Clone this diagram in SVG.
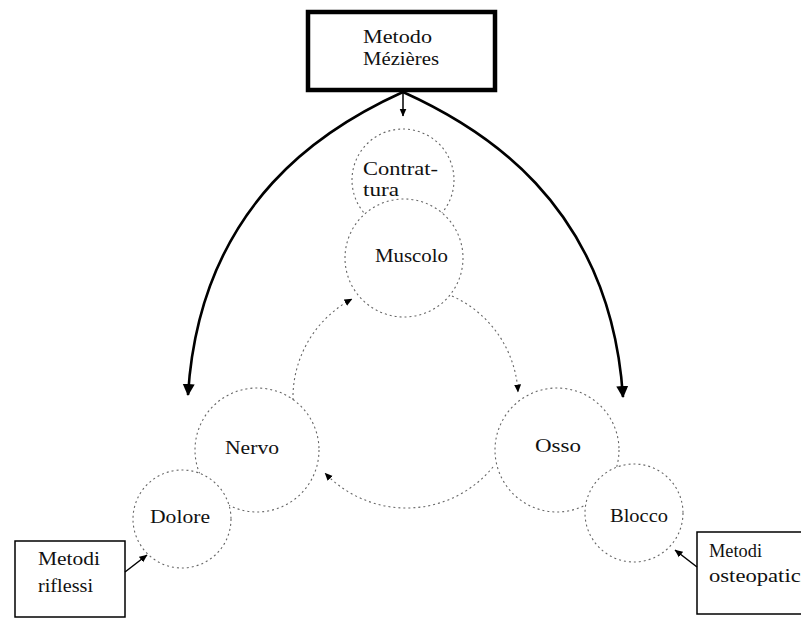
<svg xmlns="http://www.w3.org/2000/svg" width="801" height="619" viewBox="0 0 801 619">
<style>
  .node circle { fill: #fff; stroke: #666; stroke-width: 1.1; stroke-dasharray: 2 3; }
  text { font-family: "Liberation Serif", "Times New Roman", serif; font-size: 18px; fill: #111; }
  .thick { fill: none; stroke: #000; stroke-width: 2.6; }
  .dot { fill: none; stroke: #666; stroke-width: 1.1; stroke-dasharray: 2 3; }
  .thin { fill: none; stroke: #000; stroke-width: 1.5; }
</style>
<defs>
  <marker id="big" markerUnits="userSpaceOnUse" markerWidth="12" markerHeight="14" viewBox="0 0 12 14" refX="11" refY="7" orient="auto">
    <path d="M0,1 L12,7 L0,13 Z" fill="#000"/>
  </marker>
  <marker id="small" markerUnits="userSpaceOnUse" markerWidth="8" markerHeight="8" viewBox="0 0 8 8" refX="7.5" refY="4" orient="auto">
    <path d="M0,0.5 L8,4 L0,7.5 Z" fill="#000"/>
  </marker>
</defs>
<rect width="801" height="619" fill="#fff"/>

<g id="nodes">
  <g id="mezieres">
    <rect x="308" y="12" width="187" height="78" fill="#fff" stroke="#000" stroke-width="4.5"/>
    <text x="363" y="43" textLength="69" lengthAdjust="spacingAndGlyphs">Metodo</text>
    <text x="363" y="65" textLength="76" lengthAdjust="spacingAndGlyphs">Mézières</text>
  </g>
  <g id="contrattura" class="node">
    <circle cx="403" cy="180" r="51"/>
    <text x="363" y="175" textLength="75" lengthAdjust="spacingAndGlyphs">Contrat-</text>
    <text x="363" y="196" textLength="36" lengthAdjust="spacingAndGlyphs">tura</text>
  </g>
  <g id="muscolo" class="node">
    <circle cx="404" cy="258" r="59"/>
    <text x="375" y="262" textLength="73" lengthAdjust="spacingAndGlyphs">Muscolo</text>
  </g>
  <g id="nervo" class="node">
    <circle cx="257" cy="450" r="62"/>
    <text x="225" y="454" textLength="54" lengthAdjust="spacingAndGlyphs">Nervo</text>
  </g>
  <g id="dolore" class="node">
    <circle cx="182" cy="519" r="49"/>
    <text x="150" y="523" textLength="60" lengthAdjust="spacingAndGlyphs">Dolore</text>
  </g>
  <g id="osso" class="node">
    <circle cx="557" cy="450" r="62"/>
    <text x="535" y="452" textLength="46" lengthAdjust="spacingAndGlyphs">Osso</text>
  </g>
  <g id="blocco" class="node">
    <circle cx="634" cy="513" r="49"/>
    <text x="610" y="522" textLength="58" lengthAdjust="spacingAndGlyphs">Blocco</text>
  </g>
  <g id="riflessi">
    <rect x="15" y="541" width="110" height="76" fill="#fff" stroke="#000" stroke-width="1.5"/>
    <text x="38" y="565" textLength="62" lengthAdjust="spacingAndGlyphs">Metodi</text>
    <text x="38" y="592" textLength="55" lengthAdjust="spacingAndGlyphs">riflessi</text>
  </g>
  <g id="osteopatici">
    <rect x="697" y="532" width="120" height="82" fill="#fff" stroke="#000" stroke-width="1.5"/>
    <text x="709" y="557" textLength="53" lengthAdjust="spacingAndGlyphs">Metodi</text>
    <text x="709" y="582" textLength="98" lengthAdjust="spacingAndGlyphs">osteopatici</text>
  </g>
</g>

<g id="connectors">
  <path class="thick" d="M403,92 C330,125 200,200 188,395" marker-end="url(#big)"/>
  <path class="thick" d="M403,92 C476,125 610,200 623,397" marker-end="url(#big)"/>
  <path class="thin" d="M403,92 L403,116" marker-end="url(#small)"/>
  <path class="dot" d="M293,400 A112,112 0 0 1 352,299" marker-end="url(#small)"/>
  <path class="dot" d="M452,296 A112,112 0 0 1 518,392" marker-end="url(#small)"/>
  <path class="dot" d="M493,467 A112,112 0 0 1 325,473" marker-end="url(#small)"/>
  <path class="thin" d="M125,572 L147,555" marker-end="url(#small)"/>
  <path class="thin" d="M697,567 L675,550" marker-end="url(#small)"/>
</g>
</svg>
